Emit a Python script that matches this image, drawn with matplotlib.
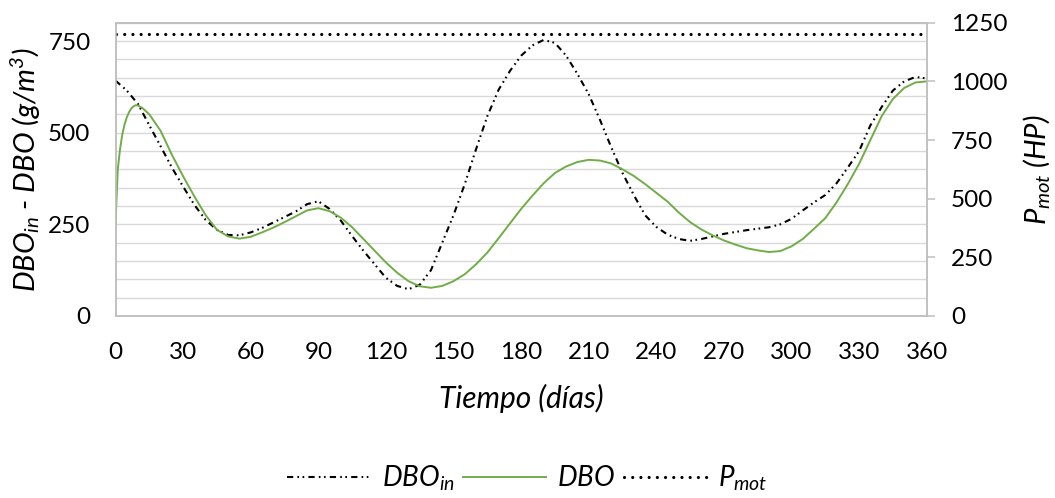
import matplotlib
matplotlib.use("Agg")
import matplotlib.pyplot as plt
from matplotlib.ticker import MultipleLocator

plt.rcParams['font.family'] = ['Lato', 'DejaVu Sans']
plt.rcParams['mathtext.fontset'] = 'custom'
plt.rcParams['mathtext.it'] = 'Lato:italic'
plt.rcParams['mathtext.rm'] = 'Lato:italic'
plt.rcParams['lines.scale_dashes'] = False

# ---- data ----
dias_in = list(range(0, 361, 5))
dbo_in = [642, 615, 578, 520, 463, 405, 353, 303, 262, 235, 221, 220, 228, 240, 255,
          270, 285, 305, 313, 292, 260, 218, 178, 141, 104, 82, 73, 85, 125, 200,
          275, 360, 455, 545, 617, 668, 710, 738, 753, 745, 710, 660, 605, 535, 460,
          390, 330, 275, 243, 222, 210, 205, 210, 217, 224, 229, 234, 238, 242, 250,
          265, 288, 310, 330, 362, 405, 450, 520, 570, 615, 640, 652, 648]

dias_dbo = [0, 1, 2, 3, 4, 5, 6, 7, 8, 9, 10, 12] + list(range(15, 361, 5))
dbo = [251, 400, 455, 495, 522, 542, 556, 566, 572, 575, 574, 567,
       550, 505, 440, 381, 326, 275, 235, 217, 211, 216, 228, 241, 256, 272, 288,
       294, 286, 268, 242, 210, 178, 146, 118, 95, 81, 77, 82, 95, 114, 141, 173,
       212, 252, 292, 328, 362, 390, 408, 420, 426, 424, 416, 400, 382, 360, 336,
       312, 282, 256, 236, 220, 206, 195, 185, 179, 174.5, 177, 190, 210, 238, 267,
       310, 360, 415, 480, 545, 592, 622, 637, 640]

dias_p = [0, 360]
pmot = [1200, 1200]

x_ticks = list(range(0, 361, 30))
left_ticks = [0, 250, 500, 750]
right_ticks = [0, 250, 500, 750, 1000, 1250]

# ---- figure ----
fig = plt.figure(figsize=(10.55, 4.98), dpi=100)
ax = fig.add_axes([0.1095, 0.3655, 0.7689, 0.5889])
ax2 = ax.twinx()

axis_gray = '#BFBFBF'
grid_gray = '#D9D9D9'
green = '#70AD47'

ax.plot(dias_in, dbo_in, color='black', lw=1.5,
        linestyle=(0, (4.5, 3, 1.2, 2.5, 1.2, 3)), dash_capstyle='butt',
        label=r'$DBO_{in}$', zorder=3)
ax.plot(dias_dbo, dbo, color=green, lw=1.4, label=r'$DBO$', zorder=4)
ax2.plot(dias_p, pmot, color='black', lw=2.3, linestyle=(0, (0.01, 5.9)),
         dash_capstyle='round', label=r'$P_{mot}$')

ax.set_xlim(0, 360)
ax.set_ylim(0, 800)
ax2.set_ylim(0, 1250)
ax.set_xticks(x_ticks)
ax.set_yticks(left_ticks)
ax.yaxis.set_minor_locator(MultipleLocator(50))
ax2.set_yticks(right_ticks)

ax.grid(True, axis='y', which='both', color=grid_gray, lw=1.0, zorder=0)
ax.set_axisbelow(True)

for a in (ax, ax2):
    for s in a.spines.values():
        s.set_color(axis_gray)
        s.set_linewidth(1.1)

ax.tick_params(axis='x', length=0, pad=19, labelsize=17.5)
ax.tick_params(axis='y', which='both', length=0, pad=18, labelsize=17.5)
ax2.tick_params(axis='y', length=5.5, width=1.1, color=axis_gray, pad=12, labelsize=17.5)

ax.set_xlabel('Tiempo (días)', fontsize=21.5, style='italic', labelpad=15)
ax.set_ylabel(r'$DBO_{in}$ - $DBO$ (g/m$^{3}$)', fontsize=21, style='italic', labelpad=4)
ax2.set_ylabel(r'$P_{mot}$ (HP)', fontsize=21, style='italic', labelpad=10)

h1, l1 = ax.get_legend_handles_labels()
h2, l2 = ax2.get_legend_handles_labels()
leg = fig.legend(h1 + h2, l1 + l2, loc='center', bbox_to_anchor=(0.5, 0.04),
                 ncol=3, frameon=False, fontsize=20, handlelength=3.0,
                 handletextpad=0.4, columnspacing=0.3)

fig.savefig('out.png', dpi=100)
